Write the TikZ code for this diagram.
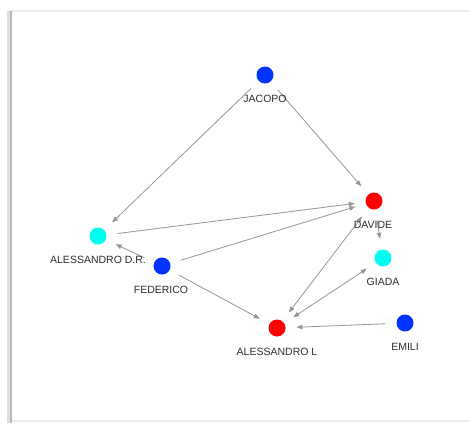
\documentclass[tikz,border=0pt]{standalone}
\usepackage{fontspec}
\setmainfont{Liberation Sans}
\usetikzlibrary{arrows.meta}
\definecolor{dotblue}{RGB}{0,51,255}
\definecolor{dotred}{RGB}{255,0,0}
\definecolor{dotcyan}{RGB}{0,255,240}
\definecolor{edgegray}{RGB}{150,150,150}
\definecolor{labelgray}{RGB}{45,45,45}
\begin{document}
\begin{tikzpicture}[x=1pt,y=-1pt,
  dot/.style={circle,draw=none,minimum size=17pt,inner sep=0pt,outer sep=11pt},
  lbl/.style={font=\fontsize{10.5}{12}\selectfont,text=labelgray,inner sep=0pt},
  edge/.style={draw=edgegray,line width=0.8pt,-{Triangle[length=6pt,width=4.5pt]}},
  bedge/.style={draw=edgegray,line width=0.8pt,{Triangle[length=6pt,width=4.5pt]}-{Triangle[length=6pt,width=4.5pt]}}]
\useasboundingbox (0,0) rectangle (470,423);
\fill[white] (0,0) rectangle (470,423);
% frame with shadow
\draw[gray!15,line width=1.5pt] (10,11) -- (470,11);
\draw[gray!15,line width=1.5pt] (10,421) -- (470,421);
\draw[gray!25,line width=3pt] (8.5,11) -- (8.5,423);
\draw[gray!55,line width=1.2pt] (11,11) -- (11,423);
% dots
\node[dot,fill=dotblue] (jac) at (265,75) {};
\node[dot,fill=dotred] (dav) at (374,201) {};
\node[dot,fill=dotcyan] (gia) at (383,258) {};
\node[dot,fill=dotblue] (emi) at (405,323) {};
\node[dot,fill=dotred] (all) at (277,328) {};
\node[dot,fill=dotblue] (fed) at (162,266) {};
\node[dot,fill=dotcyan] (adr) at (98,236) {};
% edges
\draw[edge] (jac) -- (adr);
\draw[edge] (jac) -- (dav);
\draw[edge] (adr) -- (dav);
\draw[edge] (fed) -- (dav);
\draw[edge] (fed) -- (adr);
\draw[edge] (fed) -- (all);
\draw[edge] (dav) -- (gia);
\draw[bedge] (dav) -- (all);
\draw[bedge] (gia) -- (all);
\draw[edge] (emi) -- (all);
% labels
\node[lbl] (ljac) at (265,99) {JACOPO};
\node[lbl] (ldav) at (373,225) {DAVIDE};
\node[lbl] (lgia) at (383,282) {GIADA};
\node[lbl] (lemi) at (405,347) {EMILI};
\node[lbl] (lall) at (277,352) {ALESSANDRO L};
\node[lbl] (lfed) at (161,290) {FEDERICO};
\node[lbl] (ladr) at (98,260) {ALESSANDRO D.R.};
\end{tikzpicture}
\end{document}
